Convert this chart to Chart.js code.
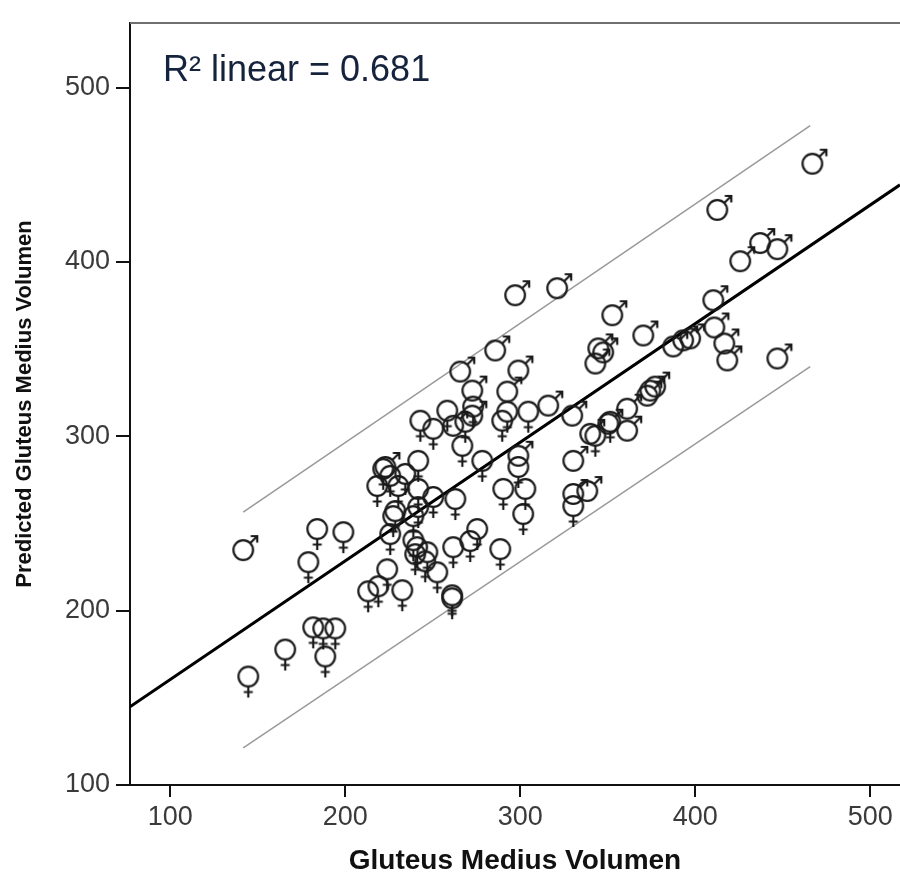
<!DOCTYPE html>
<html>
<head>
<meta charset="utf-8">
<script src="https://cdn.jsdelivr.net/npm/chart.js@4.4.1/dist/chart.umd.min.js"></script>
<style>
  html, body { margin: 0; padding: 0; background: #fff; }
  #wrap { width: 900px; height: 882px; }
</style>
</head>
<body>
<div id="wrap"><canvas id="scatterChart" width="900" height="882"></canvas></div>
<script>
// Gluteus medius volume: measured (x) vs predicted (y)
const xTicks = [100, 200, 300, 400, 500];
const yTicks = [100, 200, 300, 400, 500];

const maleVolume = [141.7, 466.9, 412.6, 425.7, 437.1, 446.9, 410.3, 410.9, 416.6, 418.3, 446.9,
    321.1, 297.1, 352.6, 370.3, 344.6, 347.4, 342.9, 387.4, 393.1, 397.1, 374.3, 377.1, 372.6,
    361.1, 361.1, 350.3, 340.0, 329.7, 316.0, 330.3, 338.3, 330.3, 285.7, 298.9, 272.6, 265.7,
    292.6, 261.7, 272.6, 222.9, 298.9];
const malePredicted = [234.7, 456.3, 429.8, 400.4, 410.8, 407.3, 378.0, 362.4, 353.2, 343.5, 344.6,
    384.9, 380.9, 369.4, 357.8, 350.4, 348.1, 341.7, 351.5, 355.0, 356.1, 326.2, 328.5, 323.3,
    315.8, 303.2, 307.2, 301.4, 311.8, 317.6, 285.9, 268.6, 266.9, 349.2, 337.7, 326.2, 337.1,
    325.6, 306.0, 311.8, 282.4, 288.8];

const femaleVolume = [144.6, 165.7, 188.6, 181.7, 187.4, 194.3, 178.9, 184.0, 198.9, 213.1, 218.9,
    232.6, 224.0, 227.4, 225.7, 238.9, 238.9, 241.1, 240.0, 246.9, 245.7, 252.6, 261.1, 261.1,
    261.7, 275.4, 271.4, 288.6, 290.3, 302.9, 301.7, 262.9, 250.3, 241.7, 225.7, 218.3, 241.7,
    266.9, 278.3, 298.9, 242.9, 250.3, 258.3, 268.6, 273.1, 289.7, 292.6, 304.6, 342.9, 330.3,
    234.3, 230.3, 228.6, 241.7, 351.4, 221.7];
const femalePredicted = [162.2, 177.7, 173.7, 190.4, 189.8, 189.8, 227.8, 246.8, 245.0, 211.1, 214.0,
    211.7, 223.7, 254.2, 243.9, 254.2, 240.4, 236.4, 232.4, 233.5, 228.3, 222.0, 208.8, 207.1,
    236.4, 246.8, 239.9, 235.3, 269.8, 269.8, 255.4, 264.0, 265.2, 269.8, 277.3, 271.5, 285.9,
    294.5, 285.9, 282.4, 308.9, 304.3, 314.7, 308.3, 317.0, 308.9, 314.1, 314.1, 300.3, 260.0,
    278.4, 271.5, 257.1, 259.4, 308.3, 281.3];

// fit line and prediction band end points
const fitX = [77, 517];
const fitY = [144.9, 444.2];
const bandX = [141.7, 465.7];
const upperY = [256.5, 478.1];
const lowerY = [121.3, 340.0];

const FONT = "'Liberation Sans', Arial, sans-serif";

function toPoints(xs, ys) {
    return xs.map((x, i) => ({ x: x, y: ys[i] }));
}

function makeMarker(kind) {
    const c = document.createElement('canvas');
    c.width = 46;
    c.height = 46;
    const g = c.getContext('2d');
    g.strokeStyle = '#1a1a1a';
    g.lineWidth = 2.2;
    g.lineCap = 'butt';
    g.beginPath();
    g.arc(23, 23, 9.8, 0, Math.PI * 2);
    g.stroke();
    g.beginPath();
    if (kind === 'female') {
        g.moveTo(23, 33);
        g.lineTo(23, 44);
        g.moveTo(18.5, 38.5);
        g.lineTo(27.5, 38.5);
    } else {
        g.moveTo(30, 16);
        g.lineTo(37, 9);
        g.moveTo(30.5, 9);
        g.lineTo(37, 9);
        g.lineTo(37, 15.5);
    }
    g.stroke();
    return c;
}

const frameAndLabel = {
    id: 'frameAndLabel',
    afterDraw(chart) {
        const { ctx, chartArea } = chart;
        ctx.save();
        ctx.strokeStyle = '#6f6f6f';
        ctx.lineWidth = 2;
        ctx.beginPath();
        ctx.moveTo(chartArea.left, chartArea.top);
        ctx.lineTo(chart.width, chartArea.top);
        ctx.stroke();
        ctx.fillStyle = '#16233d';
        ctx.font = '36px ' + FONT;
        ctx.textBaseline = 'alphabetic';
        ctx.fillText('R\u00B2 linear = 0.681', 163, 81);
        ctx.restore();
    }
};

new Chart(document.getElementById('scatterChart'), {
    type: 'scatter',
    data: {
        datasets: [
            {
                label: 'Male',
                data: toPoints(maleVolume, malePredicted),
                pointStyle: makeMarker('male'),
                pointRadius: 10
            },
            {
                label: 'Female',
                data: toPoints(femaleVolume, femalePredicted),
                pointStyle: makeMarker('female'),
                pointRadius: 10
            },
            {
                label: 'Fit',
                data: toPoints(fitX, fitY),
                showLine: true,
                borderColor: '#000',
                borderWidth: 3,
                pointRadius: 0
            },
            {
                label: 'Upper',
                data: toPoints(bandX, upperY),
                showLine: true,
                borderColor: '#9a9a9a',
                borderWidth: 1.5,
                pointRadius: 0
            },
            {
                label: 'Lower',
                data: toPoints(bandX, lowerY),
                showLine: true,
                borderColor: '#9a9a9a',
                borderWidth: 1.5,
                pointRadius: 0
            }
        ]
    },
    options: {
        responsive: false,
        animation: false,
        layout: { autoPadding: false, padding: { top: 23, left: 0, right: 0, bottom: 0 } },
        plugins: {
            legend: { display: false },
            tooltip: { enabled: false }
        },
        scales: {
            x: {
                type: 'linear',
                min: 77,
                max: 517,
                afterBuildTicks: (scale) => { scale.ticks = xTicks.map(v => ({ value: v })); },
                afterFit: (scale) => {
                    scale.height = 97;
                    scale.paddingLeft = 0;
                    scale.paddingRight = 0;
                },
                border: { display: true, color: '#111', width: 2 },
                grid: { drawOnChartArea: false, drawTicks: true, tickLength: 12, color: '#111', lineWidth: 2 },
                ticks: { color: '#3a3a3a', font: { family: FONT, size: 27 }, padding: 4, maxRotation: 0 },
                title: {
                    display: true,
                    text: 'Gluteus Medius Volumen',
                    color: '#111',
                    font: { family: FONT, size: 28, weight: 'bold' },
                    padding: { top: 0, bottom: 4 }
                }
            },
            y: {
                type: 'linear',
                min: 100,
                max: 537,
                afterBuildTicks: (scale) => { scale.ticks = yTicks.map(v => ({ value: v })); },
                afterFit: (scale) => { scale.width = 130; },
                border: { display: true, color: '#111', width: 2 },
                grid: { drawOnChartArea: false, drawTicks: true, tickLength: 14, color: '#111', lineWidth: 2 },
                ticks: { color: '#3a3a3a', font: { family: FONT, size: 27 }, padding: 6 },
                title: {
                    display: true,
                    text: 'Predicted Gluteus Medius Volumen',
                    color: '#111',
                    font: { family: FONT, size: 22, weight: 'bold' },
                    padding: { top: 12, bottom: 0 }
                }
            }
        }
    },
    plugins: [frameAndLabel]
});
</script>
</body>
</html>
